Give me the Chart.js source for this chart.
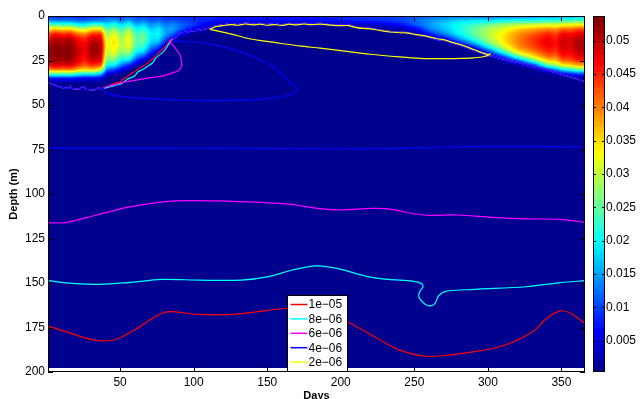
<!DOCTYPE html>
<html>
<head>
<meta charset="utf-8">
<script src="https://cdn.jsdelivr.net/npm/chart.js@4.4.1/dist/chart.umd.min.js"></script>
<style>
    html, body { margin: 0; padding: 0; background: #fff; }
    #wrap { width: 640px; height: 399px; position: relative; }
</style>
</head>
<body>
<div id="wrap"><canvas id="profileChart"></canvas></div>
<script>
// Axis ticks
const dayTicks = [50, 100, 150, 200, 250, 300, 350];
const depthTicks = [0, 25, 50, 75, 100, 125, 150, 175, 200];
const colorTicks = [0.005, 0.01, 0.015, 0.02, 0.025, 0.03, 0.035, 0.04, 0.045, 0.05];
const colorMin = 0.0003;
const colorMax = 0.0537;
const dataDepthMax = 198;

// Concentration field (values x 1e-3), one profile per sample day,
// depths 0..40 m every 2.5 m (zero below)
const fieldDays = [1, 6, 11, 16, 21, 26, 31, 37, 41, 46, 51, 56, 61, 66, 71, 76, 81, 86, 91, 101, 111, 121, 151, 181, 211, 231, 241, 251, 261, 271, 281, 291, 301, 311, 321, 331, 341, 346, 351, 356, 361];
const fieldDepths = [0, 2.5, 5, 7.5, 10, 12.5, 15, 17.5, 20, 22.5, 25, 27.5, 30, 32.5, 35, 37.5, 40];
const fieldProfiles = [
    [9, 14, 24, 34, 42, 46, 49, 51, 52, 51, 50, 47, 40, 24, 8, 1, 0],
    [8, 13, 25, 37, 46, 50, 52, 53, 53, 53, 52, 49, 41, 25, 8, 1, 0],
    [8, 13, 23, 35, 44, 49, 51, 52, 53, 52, 51, 48, 40, 24, 8, 1, 0],
    [8, 13, 24, 36, 45, 50, 52, 53, 53, 53, 52, 49, 41, 25, 8, 1, 0],
    [8, 12, 21, 32, 41, 46, 48, 49, 50, 49, 48, 45, 38, 22, 7, 1, 0],
    [8, 12, 20, 30, 39, 44, 46, 47, 47, 46, 45, 42, 35, 20, 6, 1, 0],
    [8, 13, 23, 35, 44, 49, 51, 52, 52, 51, 49, 45, 37, 21, 6, 1, 0],
    [9, 13, 23, 35, 44, 48, 50, 51, 51, 50, 48, 43, 33, 17, 5, 1, 0],
    [10, 14, 19, 24, 28, 30, 31, 31, 30, 28, 25, 20, 13, 5, 1, 0, 0],
    [10, 15, 22, 28, 32, 34, 35, 34, 33, 30, 26, 20, 11, 3, 0, 0, 0],
    [9, 13, 18, 23, 26, 28, 29, 29, 27, 24, 19, 13, 6, 1, 0, 0, 0],
    [10, 15, 22, 28, 32, 33, 33, 32, 29, 25, 18, 9, 2, 0, 0, 0, 0],
    [9, 12, 16, 20, 23, 24, 24, 23, 20, 15, 9, 3, 0, 0, 0, 0, 0],
    [9, 13, 18, 22, 25, 26, 25, 22, 18, 11, 4, 1, 0, 0, 0, 0, 0],
    [8, 11, 14, 17, 19, 19, 17, 14, 9, 4, 1, 0, 0, 0, 0, 0, 0],
    [9, 12, 16, 19, 20, 19, 16, 10, 4, 1, 0, 0, 0, 0, 0, 0, 0],
    [8, 10, 13, 15, 15, 12, 7, 2, 0, 0, 0, 0, 0, 0, 0, 0, 0],
    [8, 11, 14, 15, 12, 6, 1, 0, 0, 0, 0, 0, 0, 0, 0, 0, 0],
    [8, 10, 12, 11, 6, 1, 0, 0, 0, 0, 0, 0, 0, 0, 0, 0, 0],
    [8, 9, 9, 5, 1, 0, 0, 0, 0, 0, 0, 0, 0, 0, 0, 0, 0],
    [8, 8, 5, 1, 0, 0, 0, 0, 0, 0, 0, 0, 0, 0, 0, 0, 0],
    [8, 7, 2, 0, 0, 0, 0, 0, 0, 0, 0, 0, 0, 0, 0, 0, 0],
    [8, 7, 2, 0, 0, 0, 0, 0, 0, 0, 0, 0, 0, 0, 0, 0, 0],
    [8, 7, 2, 0, 0, 0, 0, 0, 0, 0, 0, 0, 0, 0, 0, 0, 0],
    [9, 8, 3, 0, 0, 0, 0, 0, 0, 0, 0, 0, 0, 0, 0, 0, 0],
    [10, 9, 5, 1, 0, 0, 0, 0, 0, 0, 0, 0, 0, 0, 0, 0, 0],
    [10, 10, 7, 2, 0, 0, 0, 0, 0, 0, 0, 0, 0, 0, 0, 0, 0],
    [11, 12, 11, 6, 1, 0, 0, 0, 0, 0, 0, 0, 0, 0, 0, 0, 0],
    [12, 14, 15, 13, 8, 2, 0, 0, 0, 0, 0, 0, 0, 0, 0, 0, 0],
    [12, 16, 18, 17, 14, 7, 1, 0, 0, 0, 0, 0, 0, 0, 0, 0, 0],
    [12, 18, 21, 21, 20, 16, 8, 1, 0, 0, 0, 0, 0, 0, 0, 0, 0],
    [11, 19, 23, 25, 25, 23, 17, 8, 1, 0, 0, 0, 0, 0, 0, 0, 0],
    [11, 19, 26, 29, 30, 29, 27, 20, 10, 2, 0, 0, 0, 0, 0, 0, 0],
    [12, 20, 28, 32, 34, 35, 34, 31, 24, 12, 3, 0, 0, 0, 0, 0, 0],
    [12, 21, 30, 36, 39, 40, 40, 39, 35, 26, 12, 2, 0, 0, 0, 0, 0],
    [13, 21, 31, 38, 42, 44, 44, 43, 40, 35, 25, 10, 1, 0, 0, 0, 0],
    [14, 22, 32, 40, 45, 47, 48, 47, 45, 42, 36, 26, 10, 1, 0, 0, 0],
    [14, 22, 31, 39, 43, 45, 46, 45, 44, 41, 36, 28, 14, 3, 0, 0, 0],
    [15, 23, 33, 42, 47, 49, 50, 49, 48, 46, 42, 34, 20, 6, 0, 0, 0],
    [15, 23, 33, 41, 46, 48, 48, 48, 47, 45, 42, 35, 22, 8, 1, 0, 0],
    [16, 24, 34, 43, 48, 50, 51, 51, 50, 48, 45, 38, 26, 10, 1, 0, 0]
];

// Contour levels
const levelLabels = ['1e\u221205', '8e\u221206', '6e\u221206', '4e\u221206', '2e\u221206'];
const levelColors = ['#ff0000', '#00ffff', '#ff00ff', '#0000ff', '#ffff00'];

// Contour paths as [day, depth]
const mixedLayerLeft = [[1, 37.5], [4, 38.2], [8, 39.6], [12, 40.4], [14, 40.6], [16, 39.4], [17, 40.6], [20, 41], [23, 40.8], [25, 39.6], [26.5, 41], [30, 41.5], [33, 41.6], [35, 40.2], [36.5, 40.8], [38.6, 40.6]];
const mixedLayerTop = [[86, 12.6], [88.5, 11.6], [90.8, 9.7], [95, 9.1], [100, 8.2], [104.4, 7.9], [108, 7.2], [111.2, 6.6], [115, 5.5], [120, 5], [125, 4.2], [130, 4.8], [135, 4], [140, 4.5], [145, 4.2], [150, 4.8], [155, 4.3], [160, 5], [165, 4.2], [170, 4.6], [175, 4.1], [180, 4.5], [186, 4.1], [192, 4.8], [199.6, 5.1], [205, 5], [210, 6.2], [215, 6.9], [220, 6.9], [226, 7.8], [233.7, 8.8], [240, 9.2], [245, 9.3], [251.8, 10.7], [258, 11.5], [265.4, 13.1], [270, 13.5], [276.7, 15.3], [283, 16.8], [290.3, 19.1], [295, 20.5], [299.3, 21.9], [306, 23.2], [313, 24.7], [320, 26], [326.6, 27.5], [333, 28.8], [340.2, 30.3], [347, 32], [353.8, 33.7], [360, 35.2], [366, 36.9]];

const redDeep = [[1, 174.2], [13, 177.3], [31.8, 182], [45.8, 182], [59.8, 176.4], [73.8, 168.9], [83.1, 166.1], [101.8, 167.6], [127.5, 167.6], [162.5, 164.2], [181.2, 163.3], [202.2, 170.8], [220.8, 179.2], [239.5, 187.6], [255.9, 191], [267.5, 191], [290.9, 188.6], [311.9, 184.8], [330.6, 177.3], [339.9, 169.9], [349.2, 165.7], [356.2, 167], [366, 172.7]];
const redDiagonal = [[41, 39.8], [44, 38.8], [47, 37.6], [50, 37.2], [51.5, 35.8], [53.4, 35], [56, 33.5], [58, 32.2], [61, 30.6], [64.7, 28.5], [67, 27.6], [70, 25.5], [72, 24.4], [73.8, 22.9], [77, 20], [79, 18.8], [80.6, 17.2], [82.5, 15.2], [84, 13.5]];

const cyanDeep = [[1, 148.7], [17.8, 150.2], [36.5, 150.8], [55.1, 149.8], [78.5, 148], [104.2, 148.4], [132.2, 148.4], [150.9, 146.4], [167.2, 142.7], [183.5, 140.4], [197.5, 141.8], [218.5, 146.4], [232.5, 148], [248.9, 148.9], [254.7, 150.2], [255.9, 152.1], [253.6, 154.9], [253.1, 158], [257.1, 161.8], [260.6, 162.9], [264.1, 161.4], [266.4, 157.3], [271.1, 154.7], [290.9, 153.6], [325.9, 152.1], [349.2, 149.8], [366, 148.7]];
const cyanDiagonal = [[41, 40.2], [44, 39.6], [48, 38.6], [51, 38], [53, 36.8], [55, 35.5], [58, 34.5], [60, 33.6], [62, 31.5], [65, 30.2], [68, 28.6], [70, 27.5], [72, 26.4], [74, 24], [76, 22.4], [79, 20.4], [81, 18.4], [83, 15.8], [84.5, 13.8]];

const magentaDeep = [[1, 116.1], [13.1, 116.1], [34.1, 111.8], [57.5, 107.1], [87.8, 103.9], [115.8, 103.9], [162.5, 105.6], [185.8, 108.2], [199.8, 109], [220.8, 108.1], [232.5, 108.4], [255.9, 111.8], [279.2, 111.8], [302.5, 113.1], [325.9, 114], [349.2, 114.2], [366, 115.9]];
const magentaLoop = [[40.9, 39.7], [47, 38.4], [54.5, 36.9], [61, 36], [68.1, 35], [75, 34.2], [81.7, 33.1], [86, 31.8], [89.6, 30.7], [91.5, 28.5], [91.9, 26.6], [91, 22.5], [88.5, 19.1], [86, 16.5], [84, 15.3]];

const blueDeep = [[1, 74.2], [40, 74.4], [100, 74.3], [160, 74.5], [210, 74.6], [240, 74.4], [270, 73.6], [300, 73.3], [330, 73.2], [366, 73.6]];
const blueLoop = [[40, 43.2], [50, 45.2], [60, 45.9], [70.4, 46.4], [90, 47.2], [113.5, 47.5], [130, 47.3], [145.2, 46.8], [157, 45.8], [165.6, 44.4], [169.3, 42.8], [170.2, 41.6], [169, 39.6], [167.9, 38.8], [163, 35.2], [158, 31.5], [154.3, 28.5], [148, 25.6], [140, 22.8], [131.6, 20], [122, 17.6], [113.5, 16.2], [108.9, 15.3], [100, 14.6], [92, 14.4], [88.5, 14.2]];

const yellowLoop = [[111, 7.5], [113.5, 7.9], [125, 10], [136.2, 12.5], [147, 14], [158.8, 15.3], [172, 16.8], [186, 18.1], [200, 19.5], [220, 21.5], [240, 23], [254, 23.8], [268, 24], [281.3, 23.8], [290, 23.5], [297, 22.9], [301.7, 21.3], [299.3, 21.5], [290.3, 18.8], [283, 16.5], [276.7, 15], [270, 13.3], [265.4, 12.8], [258, 11.3], [251.8, 10.5], [245, 9.5], [240, 9.4], [233.7, 9], [226, 8], [220, 7.2], [215, 7], [210, 6.4], [205, 5.4], [199.6, 5.4], [192, 5], [186, 4.6], [180, 4.9], [175, 4.5], [170, 5], [165, 4.6], [160, 5.3], [155, 4.8], [150, 5.2], [145, 4.6], [140, 5], [135, 4.5], [130, 5.2], [125, 4.8], [120, 5.4], [115, 6], [111, 7.5]];

// Build {x, y} points, null breaks the line
const toPoints = (...parts) => {
    const pts = [];
    parts.forEach(part => {
        if (part === null) {
            pts.push({ x: null, y: null });
        } else {
            part.forEach(p => pts.push({ x: p[0], y: p[1] }));
        }
    });
    return pts;
};

const levelPaths = [
    toPoints(redDeep, null, mixedLayerLeft, redDiagonal, mixedLayerTop),
    toPoints(cyanDeep, null, mixedLayerLeft, cyanDiagonal, mixedLayerTop),
    toPoints(magentaDeep, null, mixedLayerLeft, magentaLoop, mixedLayerTop),
    toPoints(blueDeep, null, mixedLayerLeft, blueLoop, mixedLayerTop),
    toPoints(yellowLoop)
];

// MATLAB-style jet colormap, 64 levels
function jetColor(v) {
    let k = Math.floor((v - colorMin) / (colorMax - colorMin) * 64);
    k = Math.max(0, Math.min(63, k)) + 1;
    const ch = s => Math.max(0, Math.min(1, (k - s) / 16, (s + 48 - k) / 16));
    return [Math.round(ch(24) * 255), Math.round(ch(8) * 255), Math.round(ch(-8) * 255)];
}

function locate(arr, v) {
    const n = arr.length - 1;
    if (v <= arr[0]) return [0, 0];
    if (v >= arr[n]) return [n - 1, 1];
    let i = 0;
    while (arr[i + 1] < v) i++;
    return [i, (v - arr[i]) / (arr[i + 1] - arr[i])];
}

function fieldValue(day, depth) {
    const [i, fx] = locate(fieldDays, day);
    const [j, fy] = locate(fieldDepths, depth);
    const p0 = fieldProfiles[i];
    const p1 = fieldProfiles[i + 1];
    const top = p0[j] * (1 - fx) + p1[j] * fx;
    const bot = p0[j + 1] * (1 - fx) + p1[j + 1] * fx;
    return (top * (1 - fy) + bot * fy) / 1000;
}

// Heatmap under the contour lines
const heatmapPlugin = {
    id: 'heatmap',
    beforeDatasetsDraw(chart) {
        const { ctx, chartArea: a, scales: { x, y } } = chart;
        const w = Math.round(a.right - a.left);
        const h = Math.round(a.bottom - a.top);
        const off = document.createElement('canvas');
        off.width = w;
        off.height = h;
        const octx = off.getContext('2d');
        const img = octx.createImageData(w, h);
        for (let j = 0; j < h; j++) {
            const depth = y.getValueForPixel(a.top + j + 0.5);
            if (depth > dataDepthMax) continue;
            for (let i = 0; i < w; i++) {
                const day = x.getValueForPixel(a.left + i + 0.5);
                const c = jetColor(fieldValue(day, depth));
                const k = (j * w + i) * 4;
                img.data[k] = c[0];
                img.data[k + 1] = c[1];
                img.data[k + 2] = c[2];
                img.data[k + 3] = 255;
            }
        }
        octx.putImageData(img, 0, 0);
        ctx.drawImage(off, a.left, a.top);
    }
};

// Box, inward ticks, colorbar and legend
const framePlugin = {
    id: 'frame',
    afterDraw(chart) {
        const { ctx, chartArea: a, scales: { x, y, cb } } = chart;
        ctx.save();
        ctx.strokeStyle = '#000';
        ctx.lineWidth = 1;

        // axes box
        ctx.strokeRect(a.left + 0.5, a.top + 0.5, a.right - a.left - 1, a.bottom - a.top - 1);
        ctx.beginPath();
        dayTicks.forEach(v => {
            const px = Math.round(x.getPixelForValue(v)) + 0.5;
            ctx.moveTo(px, a.bottom); ctx.lineTo(px, a.bottom - 5);
            ctx.moveTo(px, a.top); ctx.lineTo(px, a.top + 5);
        });
        depthTicks.forEach(v => {
            const py = Math.round(y.getPixelForValue(v)) + 0.5;
            ctx.moveTo(a.left, py); ctx.lineTo(a.left + 5, py);
            ctx.moveTo(a.right, py); ctx.lineTo(a.right - 5, py);
        });
        ctx.stroke();

        // colorbar
        const cbLeft = a.right + 8;
        const cbWidth = 12;
        for (let py = Math.round(cb.top); py < Math.round(cb.bottom); py++) {
            const c = jetColor(cb.getValueForPixel(py + 0.5));
            ctx.fillStyle = `rgb(${c[0]},${c[1]},${c[2]})`;
            ctx.fillRect(cbLeft, py, cbWidth, 1);
        }
        ctx.strokeRect(cbLeft + 0.5, cb.top + 0.5, cbWidth - 1, cb.bottom - cb.top - 1);
        ctx.beginPath();
        colorTicks.forEach(v => {
            const py = Math.round(cb.getPixelForValue(v)) + 0.5;
            ctx.moveTo(cbLeft, py); ctx.lineTo(cbLeft + 3, py);
            ctx.moveTo(cbLeft + cbWidth, py); ctx.lineTo(cbLeft + cbWidth - 3, py);
        });
        ctx.stroke();

        // legend
        const lw = 60, lh = 76;
        const lx = Math.round((a.left + a.right) / 2 - lw / 2) + 0.5;
        const ly = Math.round(a.bottom - 1 - lh) + 0.5;
        ctx.fillStyle = '#fff';
        ctx.fillRect(lx, ly, lw, lh);
        ctx.strokeRect(lx, ly, lw, lh);
        ctx.font = '12px "Liberation Sans", Arial, sans-serif';
        ctx.textBaseline = 'middle';
        ctx.textAlign = 'left';
        levelLabels.forEach((label, i) => {
            const ry = ly + 9 + i * 14.4;
            ctx.strokeStyle = levelColors[i];
            ctx.lineWidth = 1.5;
            ctx.beginPath();
            ctx.moveTo(lx + 3, ry);
            ctx.lineTo(lx + 20, ry);
            ctx.stroke();
            ctx.fillStyle = '#000';
            ctx.fillText(label, lx + 21, ry + 0.5);
        });
        ctx.restore();
    }
};

const tickFont = { family: '"Liberation Sans", Arial, sans-serif', size: 12 };
const titleFont = { family: '"Liberation Sans", Arial, sans-serif', size: 11, weight: 'bold' };
const noGrid = { display: false, drawTicks: false };

// Fixed axis sizes so the plot box lands where the original has it
const fixSize = (w, h) => s => {
    if (w !== null) s.width = w;
    if (h !== null) s.height = h;
    s.paddingTop = 0;
    s.paddingBottom = 0;
    s.paddingLeft = 0;
    s.paddingRight = 0;
};

const ctx = document.getElementById('profileChart').getContext('2d');
const chart = new Chart(ctx, {
    type: 'line',
    data: {
        datasets: levelPaths.map((pts, i) => ({
            label: levelLabels[i],
            data: pts,
            borderColor: levelColors[i],
            borderWidth: 1.2,
            pointRadius: 0,
            tension: 0.3,
            spanGaps: false,
            fill: false,
            order: levelLabels.length - i
        }))
    },
    options: {
        responsive: true,
        maintainAspectRatio: false,
        animation: false,
        events: [],
        layout: { padding: { top: 16, left: 0, right: 0, bottom: 0 } },
        plugins: {
            legend: { display: false },
            tooltip: { enabled: false }
        },
        scales: {
            x: {
                type: 'linear',
                min: 1,
                max: 366,
                afterBuildTicks: s => { s.ticks = dayTicks.map(v => ({ value: v })); },
                afterFit: fixSize(null, 27),
                grid: noGrid,
                border: { display: false },
                ticks: { color: '#000', font: tickFont, padding: 3, maxRotation: 0, autoSkip: false },
                title: { display: true, text: 'Days', color: '#000', font: titleFont, padding: { top: 0, bottom: -4 } }
            },
            y: {
                type: 'linear',
                reverse: true,
                min: 0,
                max: 200,
                afterBuildTicks: s => { s.ticks = depthTicks.map(v => ({ value: v })); },
                afterFit: fixSize(48, null),
                grid: noGrid,
                border: { display: false },
                ticks: { color: '#000', font: tickFont, padding: 3, autoSkip: false },
                title: { display: true, text: 'Depth (m)', color: '#000', font: titleFont, padding: { top: 7, bottom: 0 } }
            },
            cb: {
                type: 'linear',
                position: 'right',
                min: colorMin,
                max: colorMax,
                afterBuildTicks: s => { s.ticks = colorTicks.map(v => ({ value: v })); },
                afterFit: fixSize(55, null),
                grid: noGrid,
                border: { display: false },
                ticks: { color: '#000', font: tickFont, padding: 21, autoSkip: false, callback: v => String(v) }
            }
        }
    },
    plugins: [heatmapPlugin, framePlugin]
});
</script>
</body>
</html>
